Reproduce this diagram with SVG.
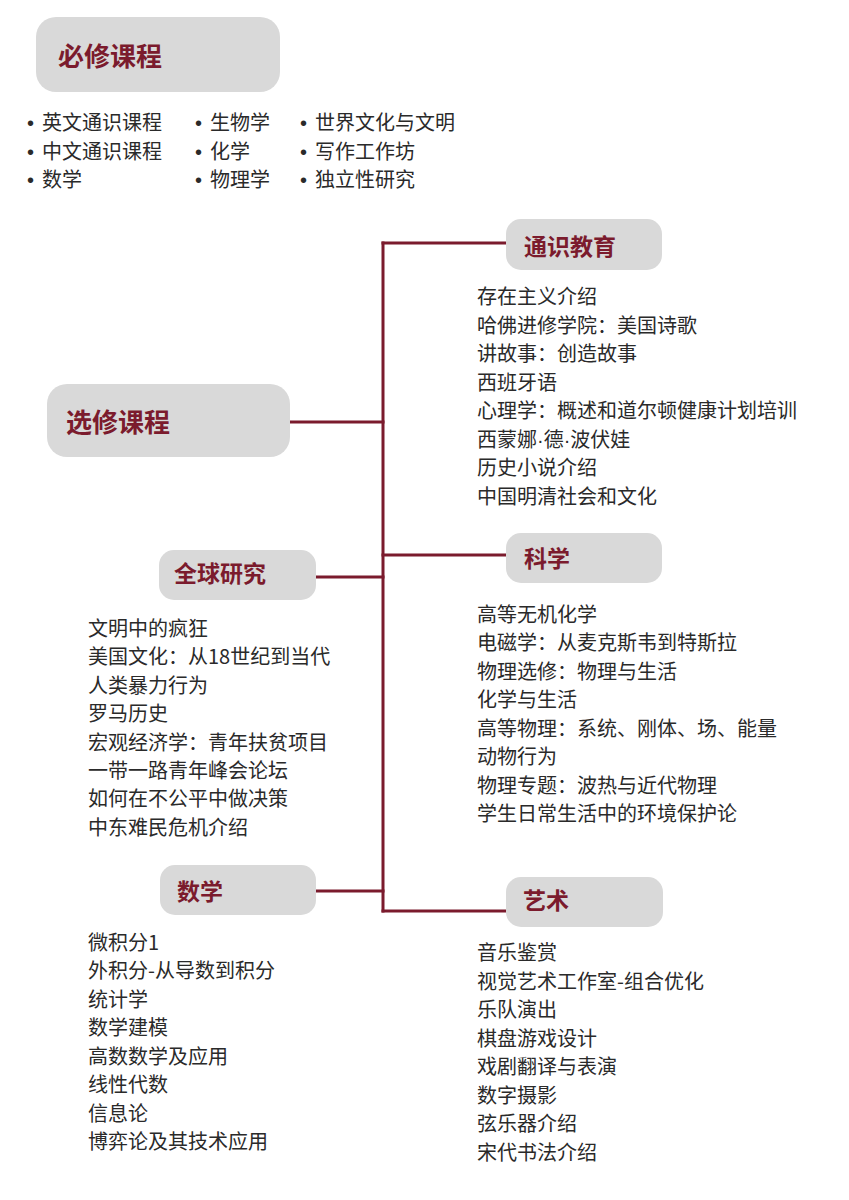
<svg xmlns="http://www.w3.org/2000/svg" width="849" height="1200" viewBox="0 0 849 1200">
<style>
.bg{fill:#ffffff}
.box{fill:#d9d9d9}
.t{font-family:"Noto Sans CJK SC","Noto Sans",sans-serif;font-weight:700;fill:#7b1b2d}
.big{font-size:26px}
.mid{font-size:23px}
.b{font-family:"Noto Sans CJK SC","Noto Sans",sans-serif;font-size:20px;fill:#2a2a2a}
.d{font-family:"Liberation Sans",Arial,sans-serif}
.c{stroke:#7b1b2d;stroke-width:3;fill:none;stroke-linecap:square}
</style>
<rect class="bg" x="0" y="0" width="849" height="1200"/>

<g id="connectors">
<path class="c" d="M383,243 V911"/>
<path class="c" d="M290,422 H383"/>
<path class="c" d="M383,243 H506"/>
<path class="c" d="M383,555 H506"/>
<path class="c" d="M316,577 H383"/>
<path class="c" d="M316,891 H383"/>
<path class="c" d="M383,911 H506"/>
</g>

<g id="required">
<rect class="box" x="36" y="17" width="244" height="75" rx="20"/>
<text class="t big" x="58" y="66">必修课程</text>
</g>

<g id="required-list" class="b">
<text y="130"><tspan class="d" x="27">•</tspan><tspan x="42">英文通识课程</tspan></text>
<text y="159"><tspan class="d" x="27">•</tspan><tspan x="42">中文通识课程</tspan></text>
<text y="187"><tspan class="d" x="27">•</tspan><tspan x="42">数学</tspan></text>
<text y="130"><tspan class="d" x="195">•</tspan><tspan x="210">生物学</tspan></text>
<text y="159"><tspan class="d" x="195">•</tspan><tspan x="210">化学</tspan></text>
<text y="187"><tspan class="d" x="195">•</tspan><tspan x="210">物理学</tspan></text>
<text y="130"><tspan class="d" x="300">•</tspan><tspan x="315">世界文化与文明</tspan></text>
<text y="159"><tspan class="d" x="300">•</tspan><tspan x="315">写作工作坊</tspan></text>
<text y="187"><tspan class="d" x="300">•</tspan><tspan x="315">独立性研究</tspan></text>
</g>

<g id="elective">
<rect class="box" x="47" y="384" width="243" height="73" rx="20"/>
<text class="t big" x="66" y="432">选修课程</text>
</g>

<g id="general">
<rect class="box" x="506" y="219" width="156" height="51" rx="15"/>
<text class="t mid" x="524" y="255">通识教育</text>
<g class="b">
<text x="477" y="304">存在主义介绍</text>
<text x="477" y="333">哈佛进修学院：美国诗歌</text>
<text x="477" y="361">讲故事：创造故事</text>
<text x="477" y="390">西班牙语</text>
<text x="477" y="418">心理学：概述和道尔顿健康计划培训</text>
<text x="477" y="447">西蒙娜<tspan class="d">·</tspan>德<tspan class="d">·</tspan>波伏娃</text>
<text x="477" y="475">历史小说介绍</text>
<text x="477" y="504">中国明清社会和文化</text>
</g>
</g>

<g id="science">
<rect class="box" x="506" y="533" width="156" height="50" rx="15"/>
<text class="t mid" x="524" y="567">科学</text>
<g class="b">
<text x="477" y="622">高等无机化学</text>
<text x="477" y="650">电磁学：从麦克斯韦到特斯拉</text>
<text x="477" y="679">物理选修：物理与生活</text>
<text x="477" y="707">化学与生活</text>
<text x="477" y="736">高等物理：系统、刚体、场、能量</text>
<text x="477" y="764">动物行为</text>
<text x="477" y="793">物理专题：波热与近代物理</text>
<text x="477" y="821">学生日常生活中的环境保护论</text>
</g>
</g>

<g id="global">
<rect class="box" x="159" y="550" width="157" height="50" rx="15"/>
<text class="t mid" x="174" y="582">全球研究</text>
<g class="b">
<text x="88" y="636">文明中的疯狂</text>
<text x="88" y="664">美国文化：从18世纪到当代</text>
<text x="88" y="693">人类暴力行为</text>
<text x="88" y="721">罗马历史</text>
<text x="88" y="750">宏观经济学：青年扶贫项目</text>
<text x="88" y="778">一带一路青年峰会论坛</text>
<text x="88" y="806">如何在不公平中做决策</text>
<text x="88" y="835">中东难民危机介绍</text>
</g>
</g>

<g id="math">
<rect class="box" x="160" y="865" width="156" height="50" rx="15"/>
<text class="t mid" x="177" y="900">数学</text>
<g class="b">
<text x="88" y="950">微积分1</text>
<text x="88" y="978">外积分-从导数到积分</text>
<text x="88" y="1007">统计学</text>
<text x="88" y="1035">数学建模</text>
<text x="88" y="1064">高数数学及应用</text>
<text x="88" y="1092">线性代数</text>
<text x="88" y="1121">信息论</text>
<text x="88" y="1149">博弈论及其技术应用</text>
</g>
</g>

<g id="art">
<rect class="box" x="506" y="877" width="157" height="50" rx="15"/>
<text class="t mid" x="523" y="909">艺术</text>
<g class="b">
<text x="477" y="960">音乐鉴赏</text>
<text x="477" y="989">视觉艺术工作室-组合优化</text>
<text x="477" y="1017">乐队演出</text>
<text x="477" y="1046">棋盘游戏设计</text>
<text x="477" y="1074">戏剧翻译与表演</text>
<text x="477" y="1103">数字摄影</text>
<text x="477" y="1131">弦乐器介绍</text>
<text x="477" y="1160">宋代书法介绍</text>
</g>
</g>
</svg>
